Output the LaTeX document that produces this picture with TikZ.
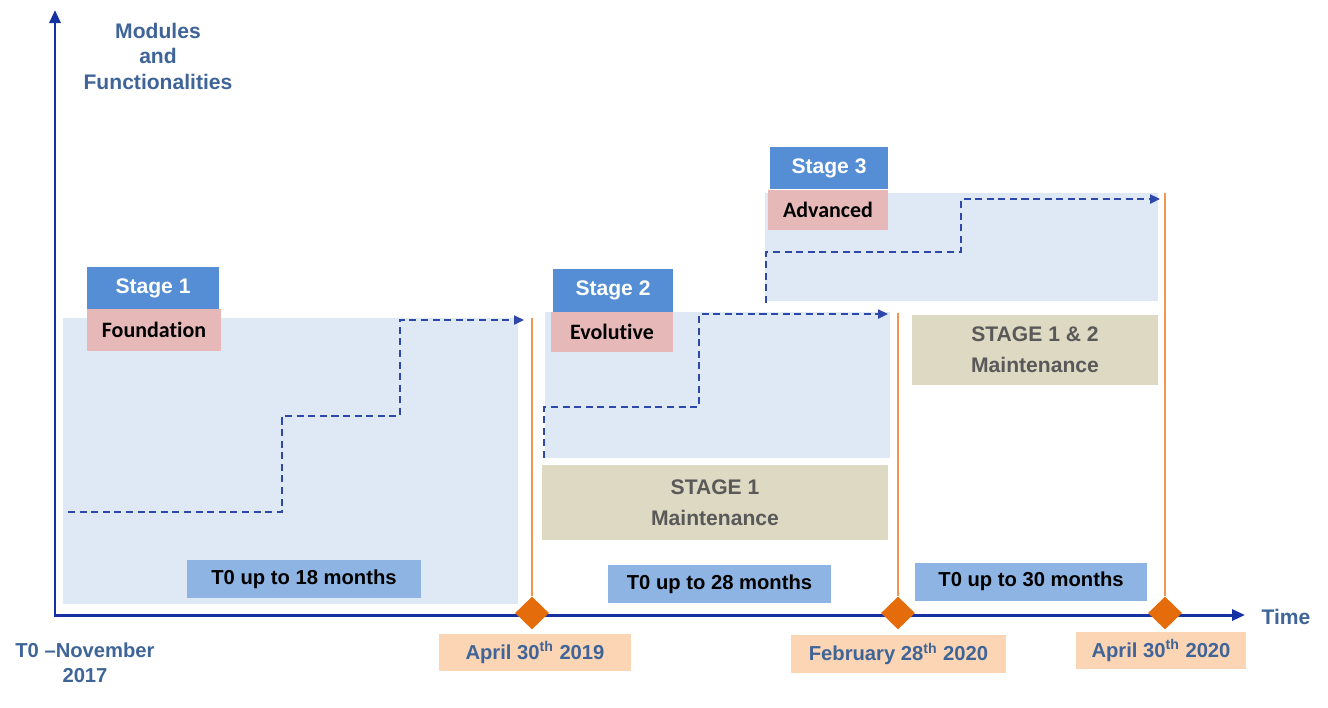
\documentclass[tikz,border=0pt]{standalone}
\usepackage{fontspec}
\setmainfont{Liberation Sans}
\newfontfamily\calibri[Ligatures=NoCommon]{Carlito}
\usepackage{xcolor}
\usetikzlibrary{shapes.geometric,arrows.meta}
\definecolor{axisblue}{RGB}{22,50,162}
\definecolor{labelblue}{RGB}{62,100,152}
\definecolor{paleblue}{RGB}{223,233,246}
\definecolor{stageblue}{RGB}{85,142,213}
\definecolor{stagepink}{RGB}{230,185,184}
\definecolor{spanblue}{RGB}{142,180,227}
\definecolor{maintbeige}{RGB}{221,217,195}
\definecolor{datepeach}{RGB}{252,213,181}
\definecolor{darkorange}{RGB}{228,108,10}
\definecolor{lightorange}{RGB}{244,150,80}

\begin{document}
\begin{tikzpicture}[
  x=0.02cm, y=-0.02cm,
  >={Triangle[length=2.6mm,width=2.2mm]},
  bg/.style={fill=paleblue, inner sep=0pt},
  hdr/.style={fill=stageblue, text=white, inner sep=0pt, font=\bfseries\fontsize{12}{14}\selectfont},
  sub/.style={fill=stagepink, text=black, inner sep=0pt, font=\calibri\bfseries\fontsize{12.5}{14}\selectfont},
  span/.style={fill=spanblue, text=black, inner sep=0pt, minimum height=0.76cm, font=\bfseries\fontsize{11.5}{14}\selectfont},
  maint/.style={fill=maintbeige, text=black!65, inner sep=0pt, align=center, font=\bfseries\fontsize{12}{17.5}\selectfont},
  date/.style={fill=datepeach, text=labelblue, inner sep=0pt, minimum height=0.75cm, font=\bfseries\fontsize{11.5}{14}\selectfont},
  lbl/.style={text=labelblue, align=center, font=\bfseries\fontsize{12}{14.5}\selectfont},
  axis/.style={draw=axisblue, line width=1.7pt},
  stair/.style={draw=axisblue!90, line width=1.3pt, dash pattern=on 4pt off 2.6pt, ->, >={Triangle[length=2mm,width=1.8mm]}},
  pole/.style={draw=lightorange, line width=1.2pt},
  milestone/.style={diamond, fill=darkorange, inner sep=0pt, minimum width=0.68cm, minimum height=0.66cm},
]
\useasboundingbox (0,0) rectangle (1328,707);
% stage areas
\node[bg, minimum width=9.1cm, minimum height=5.72cm] (bg1) at (290.5,461) {};
\node[bg, minimum width=6.9cm, minimum height=2.92cm] (bg2) at (717.5,385) {};
\node[bg, minimum width=7.86cm, minimum height=2.16cm] (bg3) at (961.5,247) {};
% stage titles
\node[hdr, minimum width=2.64cm, minimum height=0.84cm] (hdr1) at (153,288) {Stage 1};
\node[sub, minimum width=2.68cm, minimum height=0.84cm] (sub1) at (154,330) {Foundation};
\node[hdr, minimum width=2.4cm, minimum height=0.86cm] (hdr2) at (613,290.5) {Stage 2};
\node[sub, minimum width=2.44cm, minimum height=0.8cm] (sub2) at (612,332) {Evolutive};
\node[hdr, minimum width=2.36cm, minimum height=0.84cm] (hdr3) at (829,168) {Stage 3};
\node[sub, minimum width=2.4cm, minimum height=0.8cm] (sub3) at (828,210) {Advanced};
% maintenance blocks
\node[maint, minimum width=6.92cm, minimum height=1.5cm] (maint1) at (715,502.5) {STAGE 1\\Maintenance};
\node[maint, minimum width=4.92cm, minimum height=1.4cm] (maint12) at (1035,350) {STAGE 1 \& 2\\Maintenance};
% durations
\node[span, minimum width=4.68cm] (span1) at (304,579) {T0 up to 18 months};
\node[span, minimum width=4.46cm] (span2) at (719.5,584) {T0 up to 28 months};
\node[span, minimum width=4.64cm] (span3) at (1031,581.5) {T0 up to 30 months};
% dates
\node[date, minimum width=3.84cm] (date1) at (535,652.5) {April 30\textsuperscript{th} 2019};
\node[date, minimum width=4.3cm] (date2) at (898.5,654) {February 28\textsuperscript{th} 2020};
\node[date, minimum width=3.4cm] (date3) at (1161,650.5) {April 30\textsuperscript{th} 2020};
% axes
\coordinate (O) at (55,615);
\coordinate (ytip) at (55,10);
\coordinate (xtip) at (1245,615);
\draw[axis, <->] (ytip) -- (O) -- (xtip);
\node[lbl] (ylbl) at (158,56) {Modules\\and\\Functionalities};
\node[lbl] (xlbl) at (1286,617) {Time};
\node[lbl, font=\bfseries\fontsize{11.5}{14}\selectfont] (t0) at (85,663) {T0 --November\\2017};
% milestones
\node[milestone] (m1) at (532,613) {};
\node[milestone] (m2) at (898,613) {};
\node[milestone] (m3) at (1165,613) {};
\coordinate (top1) at (532,318);
\coordinate (top2) at (898,313);
\coordinate (top3) at (1165,193);
\draw[pole] (m1.north) -- (top1);
\draw[pole] (m2.north) -- (top2);
\draw[pole] (m3.north) -- (top3);
% growth steps
\coordinate (a0) at (68,512);
\coordinate (a1) at (282,416);
\coordinate (a2) at (400,320);
\coordinate (a3) at (524,320);
\draw[stair] (a0) -| (a1) -| (a2) -- (a3);
\coordinate (b0) at (544,458);
\coordinate (b1) at (699,407);
\coordinate (b2) at (888,314);
\draw[stair] (b0) |- (b1) |- (b2);
\coordinate (c0) at (766,303);
\coordinate (c1) at (961,252);
\coordinate (c2) at (1160,199);
\draw[stair] (c0) |- (c1) |- (c2);
\end{tikzpicture}
\end{document}
